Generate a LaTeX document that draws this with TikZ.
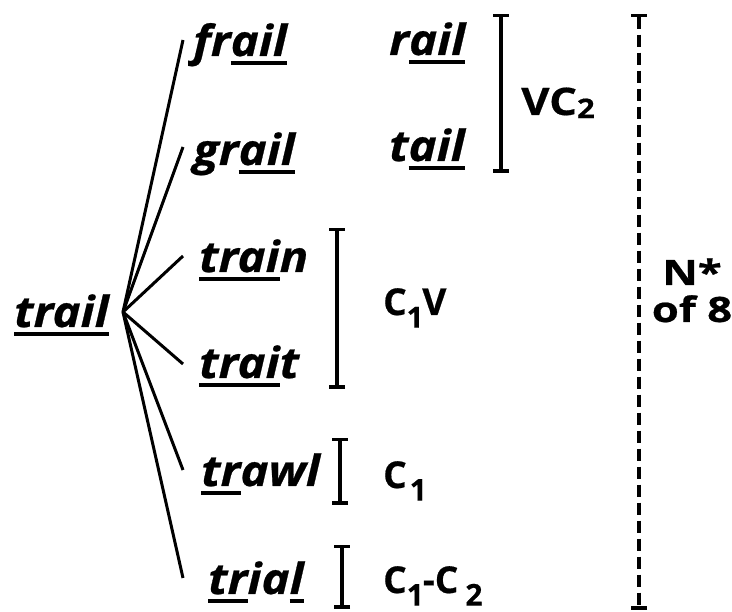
\documentclass[tikz,border=0pt]{standalone}
\usepackage{fontspec}
\setmainfont{Open Sans}[FakeBold=0.5]
\newfontfamily\wordfont{Open Sans}[FakeStretch=1.1,FakeBold=0.6]
\newfontfamily\vcfont{Open Sans}[FakeStretch=1.15,FakeBold=0.5]
\newfontfamily\nfont{Open Sans}[FakeStretch=1.25,FakeBold=0.6]
\usetikzlibrary{arrows.meta}
\newcommand\ulw[1]{\setbox0\hbox{#1}\rlap{\rule[-0.2em]{\wd0}{0.095em}}\box0}
\newcommand\lsb[2][29]{\raisebox{-0.34em}{\fontsize{#1}{#1}\selectfont #2}}
\begin{document}
\begin{tikzpicture}[x=1pt,y=-1pt,
  word/.style={anchor=base west,inner sep=0pt,font=\fontsize{43}{43}\wordfont\bfseries\itshape},
  lab/.style={anchor=base west,inner sep=0pt,font=\fontsize{37}{37}\selectfont\bfseries},
  big/.style={anchor=base,inner sep=0pt,font=\fontsize{35}{35}\nfont\bfseries},
  fan/.style={line width=3pt},
  brk/.style={line width=3.5pt,{Bar[width=16pt]}-{Bar[width=16pt]}},
  dbrk/.style={brk,dash pattern=on 12pt off 6pt}]
\useasboundingbox (0,0) rectangle (732,612);
% words
\node[word] (trail) at (14,327) {\ulw{trail}};
\node[word] (frail) at (193,56) {fr\ulw{ail}};
\node[word] (grail) at (193,165) {gr\ulw{ail}};
\node[word] (train) at (199,272) {\ulw{trai}n};
\node[word] (trait) at (199,378) {\ulw{trai}t};
\node[word] (trawl) at (201,486) {\ulw{tr}awl};
\node[word] (trial) at (208,594) {\ulw{tr}ia\ulw{l}};
\node[word] (rail) at (389,55) {r\ulw{ail}};
\node[word] (tail) at (389,161) {t\ulw{ail}};
% fan
\coordinate (hub) at (123,312);
\coordinate (e1) at (183,40);
\coordinate (e2) at (183,147);
\coordinate (e3) at (183,256);
\coordinate (e4) at (183,364);
\coordinate (e5) at (183,470);
\coordinate (e6) at (183,578);
\foreach \e in {e1,e2,e3,e4,e5,e6} \draw[fan] (hub) -- (\e);
% brackets
\coordinate (b1t) at (501,14);  \coordinate (b1b) at (501,173);
\coordinate (b2t) at (337,228); \coordinate (b2b) at (337,389);
\coordinate (b3t) at (340,438); \coordinate (b3b) at (340,505);
\coordinate (b4t) at (342,545); \coordinate (b4b) at (342,609);
\coordinate (b5t) at (639,14);  \coordinate (b5b) at (639,610);
\draw[brk] (b1t) -- (b1b);
\draw[brk] (b2t) -- (b2b);
\draw[brk] (b3t) -- (b3b);
\draw[brk] (b4t) -- (b4b);
\draw[dbrk] (b5t) -- (b5b);
% labels
\node[lab,font=\fontsize{38}{38}\vcfont\bfseries] (vc2) at (521,115) {VC\raisebox{-0.08em}{\fontsize{27}{27}\selectfont 2}};
\node[lab] (c1v) at (383,315) {C\lsb{1}\kern-1pt V};
\node[lab] (c1) at (383,488) {C\kern3pt\lsb[30]{1}};
\node[lab] (c1c2) at (383,593) {C\lsb[30]{1}\kern-1pt-C\kern7pt\lsb[30]{2}};
\node[big] (nstar) at (692,285) {N*};
\node[big] (of8) at (692,322) {of 8};
\end{tikzpicture}
\end{document}
